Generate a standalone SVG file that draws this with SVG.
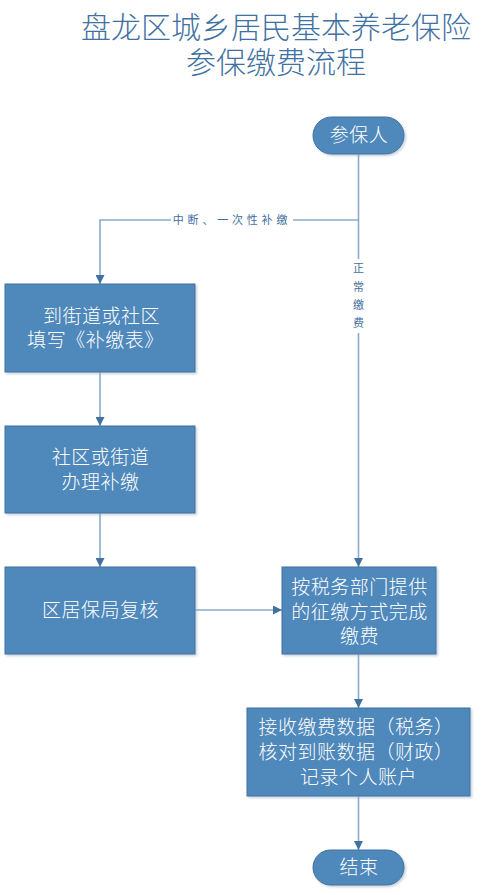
<svg xmlns="http://www.w3.org/2000/svg" width="491" height="895" viewBox="0 0 491 895">
<defs>
<style>
.title{font-family:"Liberation Sans","Noto Sans CJK SC",sans-serif;font-size:30px;font-weight:300;fill:#3F71A2;text-anchor:middle}
.box{fill:#4F88BB;stroke:#41719C;stroke-width:1}
.t{font-family:"Liberation Sans","Noto Sans CJK SC",sans-serif;font-size:19px;font-weight:300;letter-spacing:0.5px;fill:#FFFFFF;text-anchor:middle;dominant-baseline:central}
.lbl{font-family:"Liberation Sans","Noto Sans CJK SC",sans-serif;font-size:11px;fill:#3F6E9E;text-anchor:middle;dominant-baseline:central}
.c{fill:none;stroke:#8AABCB;stroke-width:1.6}
</style>
<marker id="ah" viewBox="0 0 10 10" refX="10" refY="5" markerWidth="9" markerHeight="9" markerUnits="userSpaceOnUse" orient="auto">
<path d="M0,0 L10,5 L0,10 z" fill="#41719C"/>
</marker>
<filter id="sh" x="-10%" y="-10%" width="130%" height="130%">
<feDropShadow dx="1.5" dy="1.5" stdDeviation="1.2" flood-color="#9AB0C8" flood-opacity="0.6"/>
</filter>
</defs>
<rect width="491" height="895" fill="#FFFFFF"/>
<g id="title">
<text class="title" x="276" y="38">盘龙区城乡居民基本养老保险</text>
<text class="title" x="276" y="73">参保缴费流程</text>
</g>
<g id="connectors">
<path class="c" d="M358.5,154 V259"/>
<path class="c" d="M358.5,333 V567" marker-end="url(#ah)"/>
<path class="c" d="M358.5,220 H293"/>
<path class="c" d="M171,220 H100 V284" marker-end="url(#ah)"/>
<path class="c" d="M100,372 V426" marker-end="url(#ah)"/>
<path class="c" d="M100,513 V567" marker-end="url(#ah)"/>
<path class="c" d="M195,610 H282" marker-end="url(#ah)"/>
<path class="c" d="M358.5,654 V708" marker-end="url(#ah)"/>
<path class="c" d="M358.5,796 V850" marker-end="url(#ah)"/>
<text class="lbl" x="232" y="220" letter-spacing="3.8">中断、一次性补缴</text>
<text class="lbl" x="358.5" y="268">正</text>
<text class="lbl" x="358.5" y="287">常</text>
<text class="lbl" x="358.5" y="305">缴</text>
<text class="lbl" x="358.5" y="323">费</text>
</g>
<g id="start">
<rect class="box" x="313" y="117" width="91" height="37" rx="18.5" filter="url(#sh)"/>
<text class="t" x="359" y="135.5">参保人</text>
</g>
<g id="fill-form">
<rect class="box" x="5" y="284" width="190" height="88" filter="url(#sh)"/>
<text class="t" x="101.5" y="316">到街道或社区</text>
<text class="t" x="95.5" y="340">填写《补缴表》</text>
</g>
<g id="handle">
<rect class="box" x="5" y="426" width="190" height="87" filter="url(#sh)"/>
<text class="t" x="100.5" y="457">社区或街道</text>
<text class="t" x="100.5" y="482">办理补缴</text>
</g>
<g id="review">
<rect class="box" x="5" y="567" width="190" height="87" filter="url(#sh)"/>
<text class="t" x="100.5" y="610">区居保局复核</text>
</g>
<g id="pay">
<rect class="box" x="282" y="567" width="154" height="87" filter="url(#sh)"/>
<text class="t" x="359.5" y="587">按税务部门提供</text>
<text class="t" x="359.5" y="612">的征缴方式完成</text>
<text class="t" x="359.5" y="636">缴费</text>
</g>
<g id="record">
<rect class="box" x="247" y="708" width="223" height="88" filter="url(#sh)"/>
<text class="t" x="356" y="727">接收缴费数据（税务）</text>
<text class="t" x="356" y="752">核对到账数据（财政）</text>
<text class="t" x="358.5" y="777">记录个人账户</text>
</g>
<g id="end">
<rect class="box" x="313" y="850" width="91" height="35" rx="17.5" filter="url(#sh)"/>
<text class="t" x="359" y="867.5">结束</text>
</g>
</svg>
